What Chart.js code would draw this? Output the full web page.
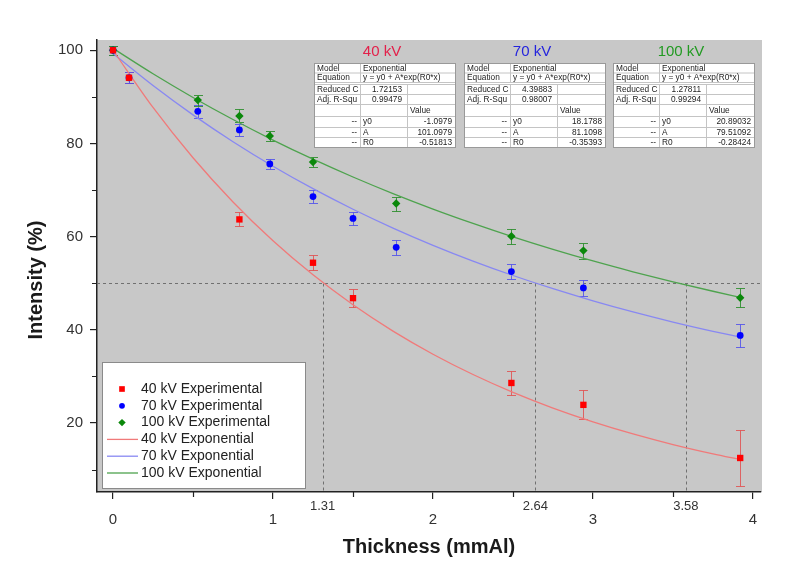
<!DOCTYPE html>
<html>
<head>
<meta charset="utf-8">
<title>Intensity vs Thickness</title>
<script src="https://cdn.jsdelivr.net/npm/chart.js@4.4.1/dist/chart.umd.min.js"></script>
<style>
  body { margin: 0; background: #fff; }
  #wrap { width: 808px; height: 570px; }
</style>
</head>
<body>
<div id="wrap"><canvas id="attenuationChart" width="808" height="570"></canvas></div>
<script>
//Measured points: thickness (mmAl) and intensity (%)
const thickness40 = [0, 0.1, 0.79, 1.25, 1.5, 2.49, 2.94, 3.92];
const intensity40 = [100, 94.1, 63.7, 54.4, 46.8, 28.6, 23.9, 12.5];
const error40 = [1.0, 1.2, 1.5, 1.6, 1.9, 2.6, 3.1, 6.0];

const thickness70 = [0, 0.1, 0.53, 0.79, 0.98, 1.25, 1.5, 1.77, 2.49, 2.94, 3.92];
const intensity70 = [100, 94.1, 86.9, 82.9, 75.6, 68.6, 63.9, 57.7, 52.5, 49.0, 38.8];
const error70 = [1.0, 1.2, 1.4, 1.3, 1.1, 1.4, 1.4, 1.6, 1.6, 1.8, 2.4];

const thickness100 = [0, 0.53, 0.79, 0.98, 1.25, 1.77, 2.49, 2.94, 3.92];
const intensity100 = [100, 89.3, 85.9, 81.6, 76.0, 67.1, 60.1, 57.0, 46.9];
const error100 = [1.0, 1.2, 1.4, 1.0, 1.1, 1.5, 1.6, 1.7, 2.0];

//Exponential fit curves
const fitThickness = [0, 0.25, 0.5, 0.75, 1, 1.25, 1.5, 1.75, 2, 2.25, 2.5, 2.75, 3, 3.25, 3.5, 3.75, 3.92];
const fit40 = [100.0, 87.72, 76.93, 67.45, 59.12, 51.80, 45.38, 39.73, 34.77, 30.41, 26.58, 23.22, 20.27, 17.67, 15.39, 13.39, 12.17];
const fit70 = [99.29, 92.42, 86.13, 80.38, 75.11, 70.29, 65.88, 61.84, 58.14, 54.76, 51.66, 48.83, 46.23, 43.85, 41.68, 39.69, 38.43];
const fit100 = [100.40, 94.95, 89.87, 85.14, 80.73, 76.62, 72.80, 69.24, 65.92, 62.84, 59.96, 57.28, 54.78, 52.46, 50.29, 48.28, 46.98];

//Fit result tables
const tableTitles = ['40 kV', '70 kV', '100 kV'];
const fitModel = 'Exponential';
const fitEquation = 'y = y0 + A*exp(R0*x)';
const reducedChi = ['1.72153', '4.39883', '1.27811'];
const adjRSquare = ['0.99479', '0.98007', '0.99294'];
const paramY0 = ['-1.0979', '18.1788', '20.89032'];
const paramA = ['101.0979', '81.1098', '79.51092'];
const paramR0 = ['-0.51813', '-0.35393', '-0.28424'];

//Half value layer markers
const halfValueX = [1.31, 2.64, 3.58];
const halfValueY = 50;

const xTicks = [0, 1, 2, 3, 4];
const yTicks = [20, 40, 60, 80, 100];
const xMinorTicks = [0.5, 1.5, 2.5, 3.5];
const yMinorTicks = [10, 30, 50, 70, 90];

const FONT = "'Liberation Sans', Arial, sans-serif";
Chart.defaults.font.family = FONT;

function toPoints(xs, ys) {
    return xs.map((x, i) => ({ x: x, y: ys[i] }));
}

function drawMarker(ctx, style, x, y, r, color) {
    ctx.fillStyle = color;
    ctx.beginPath();
    if (style === 'rect') {
        const s = r * Math.SQRT1_2;
        ctx.rect(x - s, y - s, 2 * s, 2 * s);
    } else if (style === 'rectRot') {
        ctx.moveTo(x, y - r); ctx.lineTo(x + r, y); ctx.lineTo(x, y + r); ctx.lineTo(x - r, y);
        ctx.closePath();
    } else {
        ctx.arc(x, y, r, 0, Math.PI * 2);
    }
    ctx.fill();
}

function drawTable(ctx, k, left) {
    const colW = [46, 47, 48];
    const c2 = left + colW[0], c3 = c2 + colW[1], right = c3 + colW[2];
    const top = 63, bottom = 147;
    const block1 = [63, 72.5, 82];
    const block2 = [84, 94, 104, 116, 127, 137, 147];

    ctx.fillStyle = '#fff';
    ctx.fillRect(left, top, right - left, bottom - top);

    ctx.strokeStyle = '#c4c4c4';
    ctx.lineWidth = 1;
    ctx.beginPath();
    block1.concat(block2).forEach(y => { ctx.moveTo(left, y + 0.5); ctx.lineTo(right, y + 0.5); });
    ctx.moveTo(c2 + 0.5, block1[0]); ctx.lineTo(c2 + 0.5, block1[2]);
    ctx.moveTo(c2 + 0.5, block2[0]); ctx.lineTo(c2 + 0.5, bottom);
    ctx.moveTo(c3 + 0.5, block2[0]); ctx.lineTo(c3 + 0.5, bottom);
    ctx.stroke();
    ctx.strokeStyle = '#999';
    ctx.strokeRect(left + 0.5, top + 0.5, right - left, bottom - top);

    ctx.fillStyle = '#222';
    ctx.font = '8.3px ' + FONT;
    ctx.textBaseline = 'middle';
    const mid = (a, b) => (a + b) / 2 + 0.5;
    const put = (txt, x, y, align) => { ctx.textAlign = align; ctx.fillText(txt, x, y); };

    put('Model', left + 3, mid(block1[0], block1[1]), 'left');
    put(fitModel, c2 + 3, mid(block1[0], block1[1]), 'left');
    put('Equation', left + 3, mid(block1[1], block1[2]), 'left');
    put(fitEquation, c2 + 3, mid(block1[1], block1[2]), 'left');

    put('Reduced C', left + 3, mid(block2[0], block2[1]), 'left');
    put(reducedChi[k], c3 - 5, mid(block2[0], block2[1]), 'right');
    put('Adj. R-Squ', left + 3, mid(block2[1], block2[2]), 'left');
    put(adjRSquare[k], c3 - 5, mid(block2[1], block2[2]), 'right');
    put('Value', c3 + 3, mid(block2[2], block2[3]), 'left');

    const names = ['y0', 'A', 'R0'];
    const vals = [paramY0[k], paramA[k], paramR0[k]];
    for (let r = 0; r < 3; r++) {
        const y = mid(block2[3 + r], block2[4 + r]);
        put('--', c2 - 3, y, 'right');
        put(names[r], c2 + 3, y, 'left');
        put(vals[r], right - 3, y, 'right');
    }
}

const extrasPlugin = {
    id: 'extras',
    beforeDraw(chart) {
        const { ctx, chartArea: a } = chart;
        ctx.save();
        ctx.fillStyle = '#c8c8c8';
        ctx.fillRect(a.left, a.top, a.right - a.left + 1, a.bottom - a.top);
        ctx.restore();
    },
    beforeDatasetsDraw(chart) {
        const { ctx, chartArea: a } = chart;
        const xs = chart.scales.x, ys = chart.scales.y;
        const yHalf = Math.round(ys.getPixelForValue(halfValueY)) + 0.5;
        ctx.save();
        ctx.strokeStyle = '#707070';
        ctx.lineWidth = 1;
        ctx.setLineDash([3, 3]);
        ctx.beginPath();
        ctx.moveTo(a.left, yHalf); ctx.lineTo(a.right, yHalf);
        halfValueX.forEach(v => {
            const px = Math.round(xs.getPixelForValue(v)) + 0.5;
            ctx.moveTo(px, yHalf); ctx.lineTo(px, a.bottom);
        });
        ctx.stroke();
        ctx.setLineDash([]);

        //error bars
        chart.data.datasets.forEach(ds => {
            if (!ds.errors) return;
            ctx.strokeStyle = ds.errorColor;
            ctx.lineWidth = 1;
            ds.data.forEach((p, j) => {
                const px = Math.round(xs.getPixelForValue(p.x)) + 0.5;
                const t = Math.round(ys.getPixelForValue(p.y + ds.errors[j])) + 0.5;
                const b = Math.round(ys.getPixelForValue(p.y - ds.errors[j])) + 0.5;
                ctx.beginPath();
                ctx.moveTo(px, t); ctx.lineTo(px, b);
                ctx.moveTo(px - 4.5, t); ctx.lineTo(px + 4.5, t);
                ctx.moveTo(px - 4.5, b); ctx.lineTo(px + 4.5, b);
                ctx.stroke();
            });
        });
        ctx.restore();
    },
    afterDraw(chart) {
        const { ctx, chartArea: a } = chart;
        const xs = chart.scales.x, ys = chart.scales.y;
        ctx.save();

        //minor ticks
        ctx.strokeStyle = '#222';
        ctx.lineWidth = 1.2;
        ctx.beginPath();
        xMinorTicks.forEach(v => {
            const px = Math.round(xs.getPixelForValue(v)) + 0.5;
            ctx.moveTo(px, a.bottom); ctx.lineTo(px, a.bottom + 5);
        });
        yMinorTicks.forEach(v => {
            const py = Math.round(ys.getPixelForValue(v)) + 0.5;
            ctx.moveTo(a.left, py); ctx.lineTo(a.left - 5, py);
        });
        ctx.stroke();

        //half value labels
        ctx.fillStyle = '#333';
        ctx.font = '13px ' + FONT;
        ctx.textAlign = 'center';
        ctx.textBaseline = 'middle';
        halfValueX.forEach(v => ctx.fillText(v.toFixed(2), xs.getPixelForValue(v), 506));

        //axis titles
        ctx.fillStyle = '#1a1a1a';
        ctx.font = 'bold 20px ' + FONT;
        ctx.fillText('Thickness (mmAl)', (a.left + a.right) / 2, 547);
        ctx.save();
        ctx.translate(36, 280);
        ctx.rotate(-Math.PI / 2);
        ctx.fillText('Intensity (%)', 0, 0);
        ctx.restore();

        //fit tables
        const tableLeft = [314, 464, 613];
        const titleColors = ['#e3204a', '#2424dd', '#229a22'];
        tableTitles.forEach((title, k) => {
            ctx.fillStyle = titleColors[k];
            ctx.font = '15px ' + FONT;
            ctx.textAlign = 'center';
            ctx.textBaseline = 'middle';
            ctx.fillText(title, tableLeft[k] + 68, 52);
            drawTable(ctx, k, tableLeft[k]);
        });

        //legend
        ctx.fillStyle = '#fff';
        ctx.fillRect(102, 362, 203, 126);
        ctx.strokeStyle = '#8a8a8a';
        ctx.lineWidth = 1;
        ctx.strokeRect(102.5, 362.5, 203, 126);
        ctx.font = '14px ' + FONT;
        ctx.textAlign = 'left';
        ctx.textBaseline = 'middle';
        chart.data.datasets.forEach((ds, i) => {
            const y = 389 + i * 16.8;
            if (ds.showLine) {
                ctx.strokeStyle = ds.borderColor;
                ctx.lineWidth = 1.3;
                ctx.beginPath();
                ctx.moveTo(107, y); ctx.lineTo(138, y);
                ctx.stroke();
            } else {
                drawMarker(ctx, ds.pointStyle, 122, y, ds.pointRadius - 0.5, ds.backgroundColor);
            }
            ctx.fillStyle = '#222';
            ctx.fillText(ds.label, 141, y);
        });
        ctx.restore();
    }
};

const container = document.querySelector('#attenuationChart').getContext('2d');
const attenuationChart = new Chart(container, {
    type: 'scatter',
    data: {
        datasets: [
            { label: '40 kV Experimental', data: toPoints(thickness40, intensity40), errors: error40,
              errorColor: 'rgba(225, 80, 80, 0.85)', backgroundColor: '#ff0000', borderColor: '#ff0000',
              pointStyle: 'rect', pointRadius: 4.5, borderWidth: 0, showLine: false },
            { label: '70 kV Experimental', data: toPoints(thickness70, intensity70), errors: error70,
              errorColor: 'rgba(80, 80, 235, 0.85)', backgroundColor: '#0000ff', borderColor: '#0000ff',
              pointStyle: 'circle', pointRadius: 3.4, borderWidth: 0, showLine: false },
            { label: '100 kV Experimental', data: toPoints(thickness100, intensity100), errors: error100,
              errorColor: 'rgba(40, 140, 40, 0.85)', backgroundColor: '#0a880a', borderColor: '#0a880a',
              pointStyle: 'rectRot', pointRadius: 4.2, borderWidth: 0, showLine: false },
            { label: '40 kV Exponential', data: toPoints(fitThickness, fit40), showLine: true,
              borderColor: '#f07a7a', borderWidth: 1.3, pointRadius: 0, cubicInterpolationMode: 'monotone' },
            { label: '70 kV Exponential', data: toPoints(fitThickness, fit70), showLine: true,
              borderColor: '#8888f2', borderWidth: 1.3, pointRadius: 0, cubicInterpolationMode: 'monotone' },
            { label: '100 kV Exponential', data: toPoints(fitThickness, fit100), showLine: true,
              borderColor: '#4ea34e', borderWidth: 1.3, pointRadius: 0, cubicInterpolationMode: 'monotone' }
        ]
    },
    options: {
        responsive: false,
        animation: false,
        layout: { padding: { top: 40, right: 47, left: 0, bottom: 0 } },
        plugins: {
            legend: { display: false },
            tooltip: { enabled: false }
        },
        scales: {
            x: {
                type: 'linear',
                min: -0.1,
                max: 4.05,
                afterBuildTicks: s => { s.ticks = xTicks.map(v => ({ value: v })); },
                afterFit: s => { s.height = 78; },
                grid: { drawOnChartArea: false, tickLength: 7, color: '#222', lineWidth: 1.2 },
                border: { color: '#222', width: 1.5 },
                ticks: { color: '#333', font: { size: 15 }, padding: 12, maxRotation: 0 }
            },
            y: {
                type: 'linear',
                min: 5.2,
                max: 102.2,
                afterBuildTicks: s => { s.ticks = yTicks.map(v => ({ value: v })); },
                afterFit: s => { s.width = 97; },
                grid: { drawOnChartArea: false, tickLength: 7, color: '#222', lineWidth: 1.2 },
                border: { color: '#222', width: 1.5 },
                ticks: { color: '#333', font: { size: 15 }, padding: 7 }
            }
        }
    },
    plugins: [extrasPlugin]
});
</script>
</body>
</html>
